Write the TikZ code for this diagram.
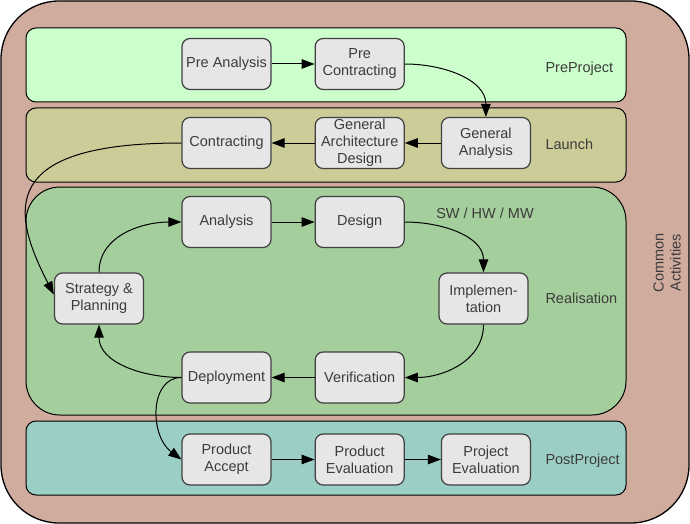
\documentclass[tikz,border=0pt]{standalone}
\usepackage{fontspec}
\setmainfont{Liberation Sans}
\usepackage{tikz}
\usetikzlibrary{positioning,arrows.meta}
\definecolor{outerBrown}{HTML}{CFAC9D}
\definecolor{preGreen}{HTML}{CCFFCC}
\definecolor{launchOlive}{HTML}{CCCC99}
\definecolor{realGreen}{HTML}{A4CE9C}
\definecolor{postTeal}{HTML}{9BCEC4}
\definecolor{boxFill}{HTML}{E6E6E6}
\definecolor{boxLine}{HTML}{404040}
\definecolor{textGray}{HTML}{3C3C3C}
\newcommand*{\phaseFont}{\fontsize{14.5}{17}\selectfont}

\begin{document}
\begin{tikzpicture}[x=1pt, y=1pt, line width=1pt, >={Triangle[length=13pt,width=9.5pt]},
    box/.style={draw=boxLine, fill=boxFill, line width=1.2pt, rounded corners=8pt, minimum width=89pt,
        minimum height=51pt, inner sep=1pt, align=center, text=textGray, font=\phaseFont},
    phase/.style={anchor=west, inner sep=0pt, text=textGray, font=\phaseFont},
    band/.style={draw=black, line width=1pt}]
    \useasboundingbox (0,0) rectangle (690,-524);
    \draw[fill=outerBrown, rounded corners=58pt, line width=1.3pt] (1,-1) rectangle (689,-523);

    % phase bands
    \draw[band, fill=preGreen, rounded corners=10pt] (26,-28) rectangle (626,-102);
    \draw[band, fill=launchOlive, rounded corners=10pt] (26,-108) rectangle (626,-182);
    \draw[band, fill=realGreen, rounded corners=34pt] (26,-187) rectangle (626,-415);
    \draw[band, fill=postTeal, rounded corners=10pt] (26,-421) rectangle (626,-495);

    \node[box] (preAnalysis) at (226.5,-64) {Pre Analysis};
    \node[box, right=43pt of preAnalysis] (preContracting) {Pre\\Contracting};

    \node[box] (contracting) at (226.5,-143) {Contracting};
    \node[box, right=43pt of contracting] (genArchDesign) {General\\Architecture\\Design};
    \node[box, right=36pt of genArchDesign] (genAnalysis) {General\\Analysis};

    \node[box] (analysis) at (226.5,-222) {Analysis};
    \node[box, right=43pt of analysis] (design) {Design};
    \node[box] (strategy) at (99,-298.5) {Strategy \&\\Planning};
    \node[box] (implementation) at (483.5,-298.5) {Implemen-\\tation};
    \node[box] (deployment) at (226.5,-377.5) {Deployment};
    \node[box, right=43pt of deployment] (verification) {Verification};

    \node[box] (productAccept) at (226.5,-459.5) {Product\\Accept};
    \node[box, right=43pt of productAccept] (productEval) {Product\\Evaluation};
    \node[box, right=36pt of productEval] (projectEval) {Project\\Evaluation};

    \node[phase] (preProjectLabel) at (545,-69) {PreProject};
    \node[phase] (launchLabel) at (545,-144) {Launch};
    \node[phase] (realisationLabel) at (545,-298) {Realisation};
    \node[phase] (postProjectLabel) at (545,-461) {PostProject};
    \node[phase, anchor=center] (swLabel) at (485,-213) {SW / HW / MW};
    \node[phase, anchor=center, rotate=90, align=center] (commonLabel) at (667,-263) {Common\\Activities};

    \draw[->] (preAnalysis) -- (preContracting);
    \draw[->] (preContracting.east) to[out=0, in=90] (genAnalysis.north);
    \draw[->] (genAnalysis) -- (genArchDesign);
    \draw[->] (genArchDesign) -- (contracting);
    \draw[->] (contracting.west) .. controls +(-182,0) and +(-44,85) .. (strategy.175);
    \draw[->] (strategy.north) to[out=90, in=180] (analysis.west);
    \draw[->] (analysis) -- (design);
    \draw[->] (design.east) to[out=0, in=90] (implementation.north);
    \draw[->] (implementation.south) to[out=-90, in=0] (verification.east);
    \draw[->] (verification) -- (deployment);
    \draw[->] (deployment.west) to[out=180, in=-90] (strategy.south);
    \draw[->] (deployment.west) .. controls +(-32,0) and +(-32,24) .. (productAccept.west);
    \draw[->] (productAccept) -- (productEval);
    \draw[->] (productEval) -- (projectEval);
\end{tikzpicture}
\end{document}
